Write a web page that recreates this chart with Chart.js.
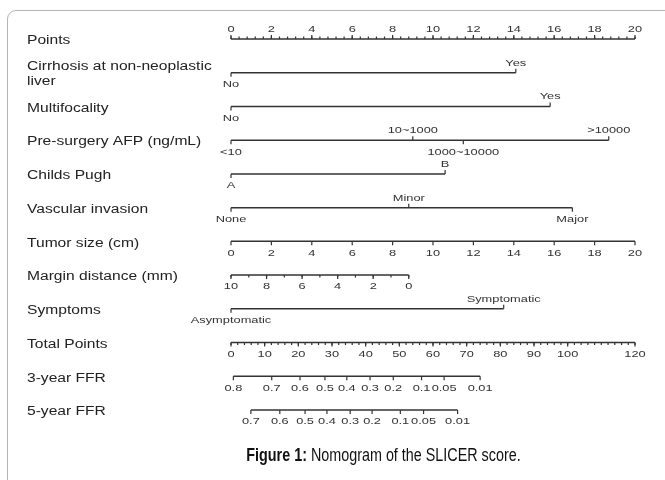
<!DOCTYPE html>
<html>
<head>
<meta charset="utf-8">
<script src="https://cdn.jsdelivr.net/npm/chart.js@4.4.1/dist/chart.umd.min.js"></script>
<style>
  html, body { margin: 0; padding: 0; background: #fff; }
  body { width: 665px; height: 480px; position: relative; overflow: hidden; }
  .frame { position: absolute; left: 7px; top: 10px; width: 820px; height: 540px;
           border: 1.5px solid #b4b4b4; border-radius: 9px; box-sizing: border-box; }
  #nomo { position: absolute; left: 0; top: 0; }
  .caption { position: absolute; left: 0; top: 445px; width: 767px; text-align: center;
             font-family: "Liberation Sans", Arial, sans-serif; font-size: 17.5px; color: #111;
             white-space: nowrap; transform: scaleX(0.82); transform-origin: 383.5px 0; }
</style>
</head>
<body>
<div class="frame"></div>
<canvas id="nomo" width="665" height="480"></canvas>
<div class="caption"><b>Figure 1:</b> Nomogram of the SLICER score.</div>

<script>
// row names, top to bottom
const rowNames = ['Points', ['Cirrhosis at non-neoplastic', 'liver'], 'Multifocality',
  'Pre-surgery AFP (ng/mL)', 'Childs Pugh', 'Vascular invasion', 'Tumor size (cm)',
  'Margin distance (mm)', 'Symptoms', 'Total Points', '3-year FFR', '5-year FFR'];

// points scale (0-20)
const pointsTicks = [0, 2, 4, 6, 8, 10, 12, 14, 16, 18, 20];

// categorical variables: level names and their points
const cirrhosisLevels = ['No', 'Yes'];
const cirrhosisPoints = [0, 14.1];
const multifocalLevels = ['No', 'Yes'];
const multifocalPoints = [0, 15.8];
const afpLevels = ['<10', '10~1000', '1000~10000', '>10000'];
const afpPoints = [0, 9.0, 11.5, 18.7];
const childsLevels = ['A', 'B'];
const childsPoints = [0, 10.6];
const vascularLevels = ['None', 'Minor', 'Major'];
const vascularPoints = [0, 8.8, 16.9];
const symptomLevels = ['Asymptomatic', 'Symptomatic'];
const symptomPoints = [0, 13.5];

// continuous variables
const tumorSizeCm = [0, 2, 4, 6, 8, 10, 12, 14, 16, 18, 20];
const tumorSizePoints = [0, 2, 4, 6, 8, 10, 12, 14, 16, 18, 20];
const marginMm = [10, 8, 6, 4, 2, 0];
const marginZeroPoints = 8.8;   // points given at 0 mm

// total points scale (0-120)
const totalTicks = [0, 10, 20, 30, 40, 50, 60, 70, 80, 90, 100, 120];
const ffr3Labels = ['0.8', '0.7', '0.6', '0.5', '0.4', '0.3', '0.2', '0.1', '0.05', '0.01'];
const ffr3Total = [0.7, 12.1, 20.5, 27.9, 34.4, 41.3, 48.2, 56.6, 63.3, 74.0];
const ffr5Labels = ['0.7', '0.6', '0.5', '0.4', '0.3', '0.2', '0.1', '0.05', '0.01'];
const ffr5Total = [5.9, 14.5, 22.0, 28.5, 35.4, 41.9, 50.3, 57.2, 67.3];

const FONT = '"Liberation Sans", Arial, sans-serif';
const INK = '#222';

function range(a, b, step) {
  const out = [];
  for (let v = a; v <= b + 1e-9; v += step) out.push(+v.toFixed(4));
  return out;
}
const marginPos = mm => (10 - mm) * marginZeroPoints / 10;

// side of each label: 'a' = above the line, 'b' = below
const rows = [
  { axis: 'x', pos: pointsTicks, text: pointsTicks.map(String), side: 'a', minor: range(0, 20, 0.4) },
  { axis: 'x', pos: cirrhosisPoints, text: cirrhosisLevels, side: ['b', 'a'] },
  { axis: 'x', pos: multifocalPoints, text: multifocalLevels, side: ['b', 'a'] },
  { axis: 'x', pos: afpPoints, text: afpLevels, side: ['b', 'a', 'b', 'a'] },
  { axis: 'x', pos: childsPoints, text: childsLevels, side: ['b', 'a'] },
  { axis: 'x', pos: vascularPoints, text: vascularLevels, side: ['b', 'a', 'b'] },
  { axis: 'x', pos: tumorSizePoints, text: tumorSizeCm.map(String), side: 'b' },
  { axis: 'x', pos: marginMm.map(marginPos), text: marginMm.map(String), side: 'b', minor: range(0, 10, 1).map(marginPos) },
  { axis: 'x', pos: symptomPoints, text: symptomLevels, side: ['b', 'a'] },
  { axis: 'xt', pos: totalTicks, text: totalTicks.map(String), side: 'b', minor: range(0, 120, 2) },
  { axis: 'xt', pos: ffr3Total, text: ffr3Labels, side: 'b' },
  { axis: 'xt', pos: ffr5Total, text: ffr5Labels, side: 'b' }
];

const datasets = rows.map((r, i) => ({
  data: r.pos.map(p => ({ x: p, y: i })),
  xAxisID: r.axis,
  showLine: true,
  borderColor: '#333',
  borderWidth: 1.5,
  pointRadius: 0,
  clip: false
}));

function wideText(ctx, str, x, y, sx) {
  ctx.save();
  ctx.translate(x, y);
  ctx.scale(sx, 1);
  ctx.fillText(str, 0, 0);
  ctx.restore();
}

const nomogramPlugin = {
  id: 'nomogram',
  afterDatasetsDraw(chart) {
    const ctx = chart.ctx;
    const ys = chart.scales.y;
    ctx.save();
    ctx.strokeStyle = '#333';
    ctx.lineWidth = 1.2;
    rows.forEach((r, i) => {
      const xs = chart.scales[r.axis];
      const y = ys.getPixelForValue(i);
      // row name
      ctx.fillStyle = INK;
      ctx.font = '12px ' + FONT;
      ctx.textAlign = 'left';
      ctx.textBaseline = 'middle';
      const name = rowNames[i];
      if (Array.isArray(name)) {
        wideText(ctx, name[0], 27, y - 6, 1.3);
        wideText(ctx, name[1], 27, y + 9, 1.3);
      } else {
        wideText(ctx, name, 27, y + 2, 1.3);
      }
      // minor ticks
      const up = r.side === 'a';
      if (r.minor) {
        r.minor.forEach(v => {
          const px = xs.getPixelForValue(v);
          ctx.beginPath();
          ctx.moveTo(px, y);
          ctx.lineTo(px, up ? y - 2.5 : y + 2.5);
          ctx.stroke();
        });
      }
      // major ticks and labels
      ctx.fillStyle = '#333';
      ctx.font = '9.5px ' + FONT;
      ctx.textAlign = 'center';
      r.pos.forEach((v, k) => {
        const side = Array.isArray(r.side) ? r.side[k] : r.side;
        const px = xs.getPixelForValue(v);
        ctx.beginPath();
        ctx.moveTo(px, y);
        ctx.lineTo(px, side === 'a' ? y - 4 : y + 4);
        ctx.stroke();
        if (side === 'a') {
          ctx.textBaseline = 'bottom';
          wideText(ctx, r.text[k], px, y - 5, 1.35);
        } else {
          ctx.textBaseline = 'top';
          wideText(ctx, r.text[k], px, y + 7, 1.35);
        }
      });
    });
    ctx.restore();
  }
};

new Chart(document.getElementById('nomo'), {
  type: 'scatter',
  data: { datasets },
  options: {
    responsive: false,
    animation: false,
    layout: { padding: { left: 231, right: 30, top: 39, bottom: 70 } },
    plugins: { legend: { display: false }, tooltip: { enabled: false } },
    scales: {
      x: { type: 'linear', min: 0, max: 20, display: false },
      xt: { type: 'linear', axis: 'x', min: 0, max: 120, display: false },
      y: { type: 'linear', min: 0, max: 11, reverse: true, display: false }
    }
  },
  plugins: [nomogramPlugin]
});
</script>
</body>
</html>
